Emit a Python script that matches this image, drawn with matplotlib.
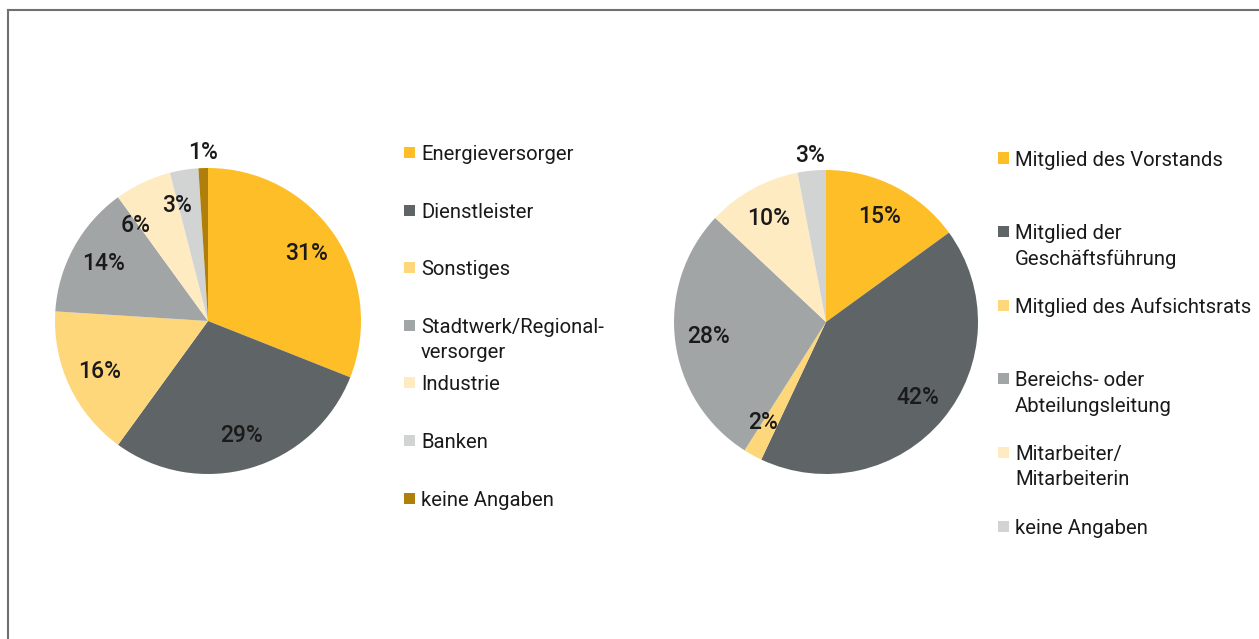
import matplotlib.pyplot as plt
from matplotlib.patches import Rectangle
from matplotlib.lines import Line2D
import numpy as np

plt.rcParams['font.family'] = ['Roboto', 'DejaVu Sans']

# Branche (left pie)
branche_labels = ["Energieversorger", "Dienstleister", "Sonstiges",
                  "Stadtwerk/Regional-\nversorger", "Industrie", "Banken",
                  "keine Angaben"]
branche_values = [31, 29, 16, 14, 6, 3, 1]
branche_colors = ["#FDBE28", "#5F6566", "#FED77A", "#A2A5A6", "#FEEBC2",
                  "#D2D3D3", "#B07E0A"]

# Position (right pie)
position_labels = ["Mitglied des Vorstands", "Mitglied der\nGeschäftsführung",
                   "Mitglied des Aufsichtsrats", "Bereichs- oder\nAbteilungsleitung",
                   "Mitarbeiter/\nMitarbeiterin", "keine Angaben"]
position_values = [15, 42, 2, 28, 10, 3]
position_colors = ["#FDBE28", "#5F6566", "#FED77A", "#A2A5A6", "#FEEBC2",
                   "#D2D3D3"]

W, H = 1259, 639
TEXT = "#1a1a1a"
FS = 14.6
PCT_FS = 16.5


def draw_pie(fig, cx, cy, r, values, colors, nudge=None):
    ax = fig.add_axes([(cx - r) / W, (H - cy - r) / H, 2 * r / W, 2 * r / H])
    wedges, _, autotexts = ax.pie(
        values, colors=colors, startangle=90, counterclock=False,
        autopct=lambda p: f"{round(p)}%", pctdistance=0.78,
        wedgeprops=dict(linewidth=0),
        textprops=dict(fontsize=PCT_FS, fontweight="medium", color=TEXT),
    )
    nudge = nudge or {}
    last = len(wedges) - 1
    for i, (w, t) in enumerate(zip(wedges, autotexts)):
        # smallest slice gets its label outside, crowded ones are turned a bit
        dist = 1.1 if i == last else 0.78
        ang = np.deg2rad((w.theta1 + w.theta2) / 2 + nudge.get(i, 0))
        t.set_position((dist * np.cos(ang), dist * np.sin(ang)))
    ax.set_xlim(-1, 1)
    ax.set_ylim(-1, 1)
    return ax


def draw_legend(fig, x_sq, y0, step, labels, colors):
    sq = 11
    line_h = 25.5
    for i, (label, color) in enumerate(zip(labels, colors)):
        y = y0 + i * step
        fig.add_artist(Rectangle((x_sq / W, (H - y - sq / 2) / H), sq / W, sq / H,
                                 transform=fig.transFigure, color=color, lw=0))
        for j, line in enumerate(label.split("\n")):
            fig.text((x_sq + 17) / W, (H - y - 7.5 - j * line_h) / H, line,
                     fontsize=FS, color=TEXT, va="baseline", ha="left")


fig = plt.figure(figsize=(W / 100, H / 100), dpi=100)

draw_pie(fig, 208, 321, 153, branche_values, branche_colors, nudge={4: 12, 5: 6})
draw_legend(fig, 404, 152.5, 57.6, branche_labels, branche_colors)

draw_pie(fig, 826, 322, 152, position_values, position_colors, nudge={2: -3})
draw_legend(fig, 998, 158, 73.6, position_labels, position_colors)

# frame
fig.add_artist(Line2D([8 / W, 8 / W], [0, (H - 10) / H], transform=fig.transFigure,
                      color="#707070", lw=1.5))
fig.add_artist(Line2D([8 / W, 1], [(H - 10) / H, (H - 10) / H], transform=fig.transFigure,
                      color="#707070", lw=1.5))

fig.savefig("out.png", dpi=100)
